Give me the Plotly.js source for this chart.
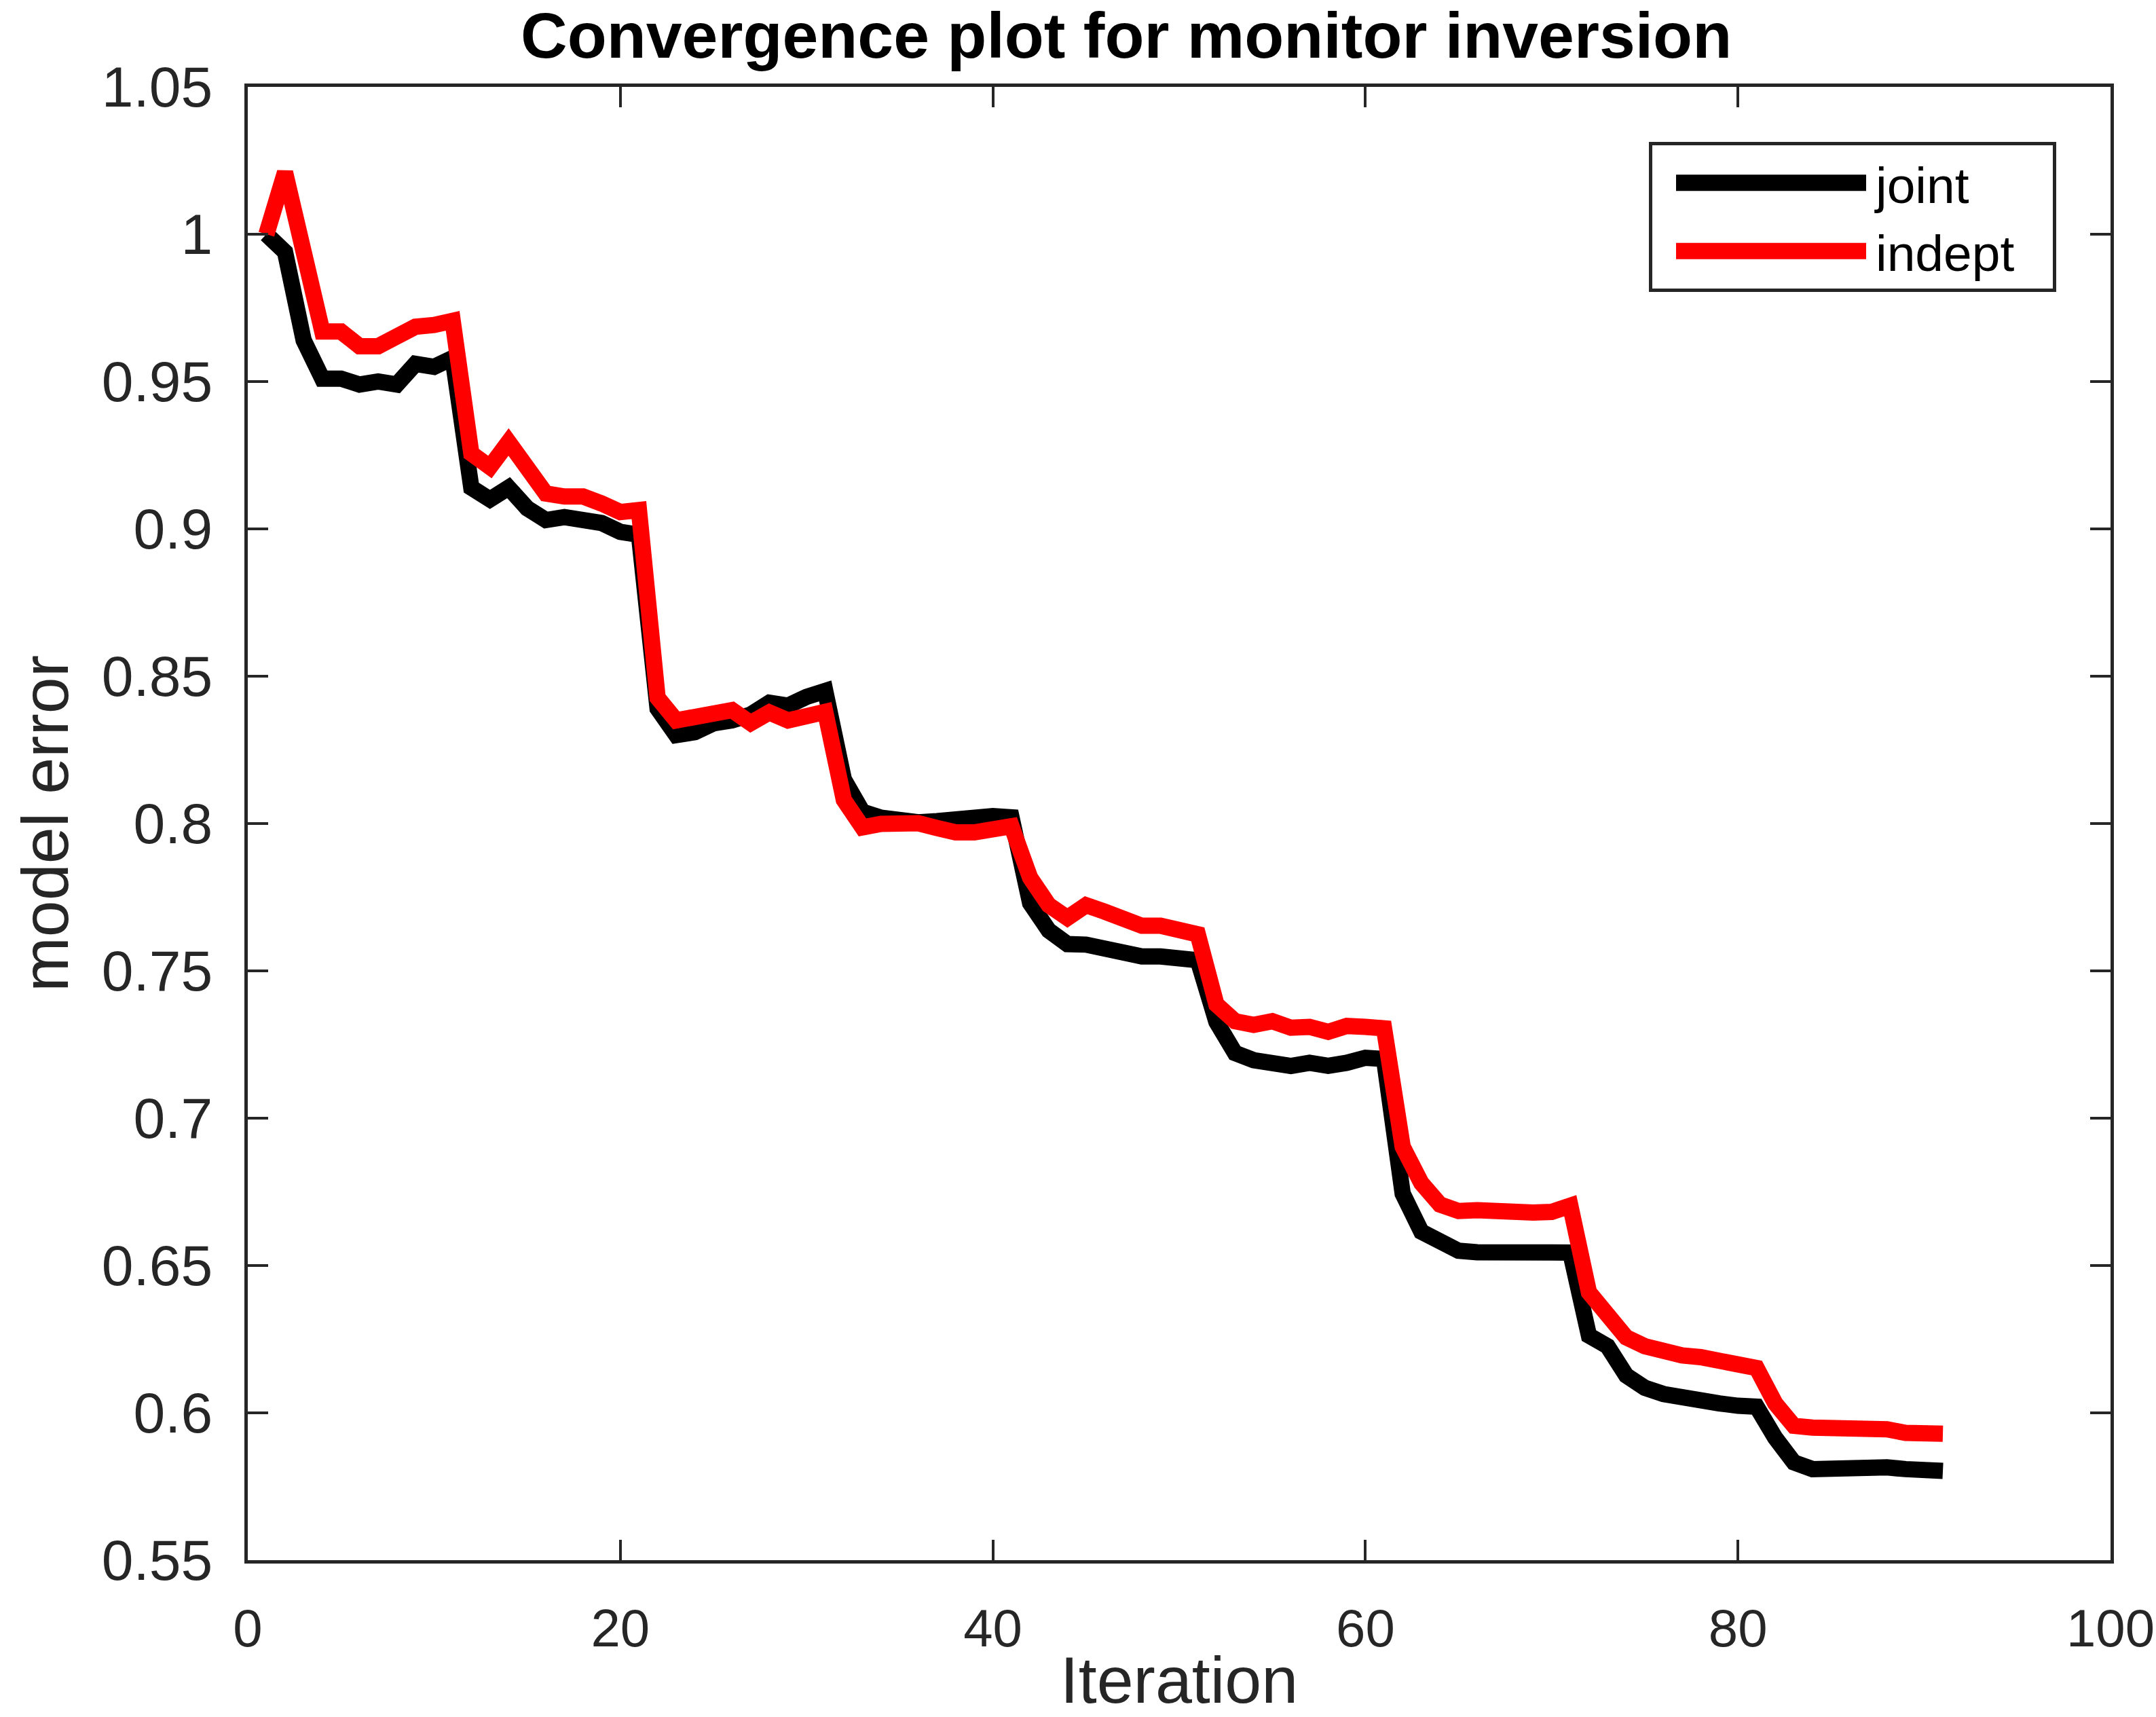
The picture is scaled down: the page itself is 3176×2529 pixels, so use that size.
<!DOCTYPE html>
<html>
<head>
<meta charset="utf-8">
<script src="https://cdn.plot.ly/plotly-3.0.1.min.js"></script>
<style>
  html, body { margin: 0; padding: 0; background: #ffffff; }
  #chart { width: 3176px; height: 2529px; }
</style>
</head>
<body>
<div id="chart"></div>
<script>
// Iteration numbers (1..91)
const iterations = [
  1,2,3,4,5,6,7,8,9,10,11,12,13,14,15,16,17,18,19,20,
  21,22,23,24,25,26,27,28,29,30,31,32,33,34,35,36,37,38,39,40,
  41,42,43,44,45,46,47,48,49,50,51,52,53,54,55,56,57,58,59,60,
  61,62,63,64,65,66,67,68,69,70,71,72,73,74,75,76,77,78,79,80,
  81,82,83,84,85,86,87,88,89,90,91
];

// "joint" series (black)
const jointError = [
  1.000,0.994,0.964,0.951,0.951,0.949,0.950,0.949,0.956,0.955,
  0.958,0.914,0.910,0.914,0.907,0.903,0.904,0.903,0.902,0.899,
  0.898,0.839,0.830,0.831,0.834,0.835,0.837,0.841,0.840,0.843,
  0.845,0.815,0.804,0.802,0.8005,0.8004,0.8008,0.8017,0.8025,0.8025,
  0.8021,0.773,0.7637,0.7591,0.7589,0.7575,0.7562,0.7549,0.7549,0.7541,
  0.7536,0.7327,0.7221,0.7197,0.7190,0.7177,0.7188,0.7178,0.7188,0.7205,
  0.7201,0.6744,0.6615,0.658,0.655,0.6545,0.6545,0.6545,0.6536,0.6538,
  0.6544,0.6262,0.6226,0.6127,0.6085,0.6064,0.605,0.6047,0.6032,0.6024,
  0.6021,0.5915,0.5832,0.5809,0.5813,0.5817,0.5821,0.5815,0.5809,0.5806,
  0.5803
];

// "indept" series (red)
const indeptError = [
  1.000,1.021,0.994,0.967,0.967,0.962,0.962,0.965,0.9686,0.9692,
  0.9706,0.9256,0.921,0.9295,0.9215,0.912,0.911,0.911,0.9086,0.9057,
  0.9064,0.8427,0.835,0.8364,0.8369,0.8385,0.8341,0.8377,0.835,0.8358,
  0.8379,0.808,0.7987,0.7999,0.7999,0.8001,0.7985,0.797,0.797,0.7975,
  0.7991,0.7816,0.7723,0.768,0.7723,0.7701,0.7675,0.7653,0.7653,0.7641,
  0.7624,0.7386,0.7329,0.7317,0.7329,0.7307,0.731,0.7293,0.7313,0.731,
  0.7305,0.6903,0.678,0.6707,0.6685,0.6688,0.6683,0.6691,0.668,0.6682,
  0.6703,0.6409,0.6332,0.6256,0.6226,0.6206,0.6195,0.6189,0.6174,0.6164,
  0.6152,0.6032,0.5956,0.595,0.595,0.595,0.5954,0.5944,0.5932,0.593,
  0.5929
];

const xTickVals = [0, 20, 40, 60, 80, 100];
const xTickText = ['0', '20', '40', '60', '80', '100'];
const yTickVals = [0.55, 0.6, 0.65, 0.7, 0.75, 0.8, 0.85, 0.9, 0.95, 1, 1.05];
const yTickText = ['0.55', '0.6', '0.65', '0.7', '0.75', '0.8', '0.85', '0.9', '0.95', '1', '1.05'];

const FONT = 'Liberation Sans, Arial, Helvetica, sans-serif';
const AXC = '#262626';

const traces = [
  {
    x: iterations, y: jointError, name: 'joint',
    type: 'scatter', mode: 'lines',
    line: { color: '#000000', width: 24 }
  },
  {
    x: iterations, y: indeptError, name: 'indept',
    type: 'scatter', mode: 'lines',
    line: { color: '#ff0000', width: 24 }
  }
];

const axisCommon = {
  showgrid: false,
  zeroline: false,
  showline: true,
  linecolor: AXC,
  linewidth: 5,
  mirror: 'ticks',
  ticks: 'inside',
  ticklen: 30,
  tickwidth: 4,
  tickcolor: AXC,
  ticklabeloverflow: 'allow',
  automargin: false
};

const layout = {
  width: 3176,
  height: 2529,
  paper_bgcolor: '#ffffff',
  plot_bgcolor: '#ffffff',
  margin: { l: 365, r: 67, t: 128, b: 231, pad: 0 },
  title: {
    text: 'Convergence plot for monitor inversion',
    font: { family: FONT, size: 95, color: '#000000', weight: 'bold' },
    x: 0.5224, xanchor: 'center', xref: 'container',
    y: 1 - 52 / 2529, yanchor: 'middle', yref: 'container'
  },
  xaxis: Object.assign({}, axisCommon, {
    range: [0, 100],
    tickmode: 'array',
    tickvals: xTickVals,
    ticktext: xTickText,
    tickfont: { family: FONT, size: 78, color: AXC },
    ticklabelstandoff: 28,
    title: { text: 'Iteration', font: { family: FONT, size: 97, color: AXC }, standoff: 42 }
  }),
  yaxis: Object.assign({}, axisCommon, {
    range: [0.55, 1.05],
    tickmode: 'array',
    tickvals: yTickVals,
    ticktext: yTickText,
    tickfont: { family: FONT, size: 84, color: AXC },
    ticklabelstandoff: 30,
    title: { text: 'model error', font: { family: FONT, size: 97, color: AXC }, standoff: 18 }
  }),
  showlegend: true,
  legend: {
    x: (2429 - 365) / 2744,
    y: 1 - (209 - 128) / 2170,
    xanchor: 'left',
    yanchor: 'top',
    bgcolor: '#ffffff',
    bordercolor: AXC,
    borderwidth: 5,
    font: { family: FONT, size: 75, color: '#000000' },
    itemwidth: 319,
    tracegroupgap: 0
  }
};

Plotly.newPlot('chart', traces, layout, { staticPlot: true, displayModeBar: false }).then(function () {
  // MATLAB-style legend: thick 280px samples with left padding, wider box
  document.querySelectorAll('.legendlines path').forEach(function (p) {
    p.setAttribute('d', 'M35,0h280');
    p.style.strokeWidth = '24px';
  });
  var bg = document.querySelector('.legend rect.bg');
  if (bg) {
    var w = parseFloat(bg.getAttribute('width'));
    bg.setAttribute('width', String(w + 51));
  }
});
</script>
</body>
</html>
